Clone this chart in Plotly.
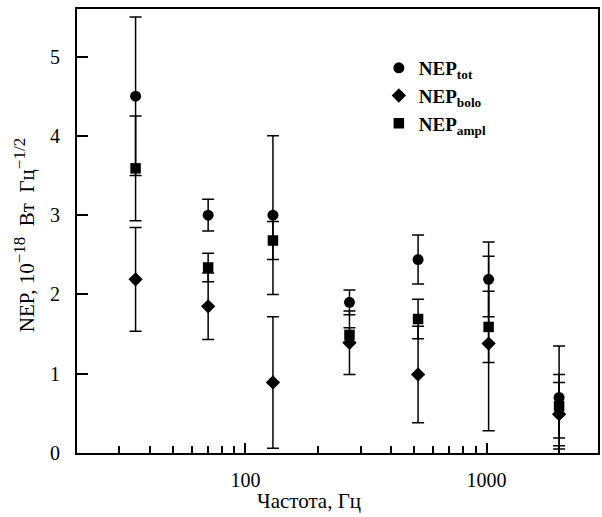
import numpy as np
import plotly.graph_objects as go

freq = [35, 70, 130, 270, 520, 1020, 2000]
nep_tot = [4.5, 3.0, 3.0, 1.9, 2.44, 2.19, 0.7]
nep_tot_err = [1.0, 0.2, 1.0, 0.155, 0.31, 0.47, 0.65]
nep_bolo = [2.19, 1.85, 0.89, 1.39, 0.99, 1.38, 0.49]
nep_bolo_err = [0.655, 0.42, 0.83, 0.4, 0.61, 1.1, 0.4]
nep_ampl = [3.59, 2.34, 2.68, 1.49, 1.69, 1.59, 0.59]
nep_ampl_err = [0.66, 0.18, 0.24, 0.09, 0.25, 0.45, 0.4]

x_major = [100, 1000]
x_major_text = ["100", "1000"]
x_minor = [30, 40, 50, 60, 70, 80, 90, 200, 300, 400, 500, 600, 700, 800, 900, 2000]
y_ticks = [0, 1, 2, 3, 4, 5]

FONT = "Liberation Serif, Times New Roman, serif"

fig = go.Figure()

series = [
    ("<b>NEP<sub>tot</sub></b>", nep_tot, nep_tot_err, "circle", 11),
    ("<b>NEP<sub>bolo</sub></b>", nep_bolo, nep_bolo_err, "diamond", 11),
    ("<b>NEP<sub>ampl</sub></b>", nep_ampl, nep_ampl_err, "square", 10.5),
]
for name, y, err, sym, size in series:
    fig.add_trace(go.Scatter(
        x=freq, y=y, mode="markers", name=name,
        marker=dict(symbol=sym, size=size, color="black"),
        error_y=dict(type="data", array=err, visible=True, color="black",
                     thickness=1.5, width=6),
    ))

fig.update_layout(
    width=602, height=517,
    margin=dict(l=77, r=2, t=9, b=64),
    paper_bgcolor="white", plot_bgcolor="white",
    font=dict(family=FONT, size=20, color="black"),
    showlegend=True,
    legend=dict(x=(380 - 77) / 523, y=0.91, xanchor="left", yanchor="top",
                bgcolor="rgba(0,0,0,0)", font=dict(size=19, family=FONT),
                itemwidth=30),
    xaxis=dict(
        type="log", range=[np.log10(20), np.log10(2900)],
        tickmode="array", tickvals=x_major, ticktext=x_major_text,
        ticks="inside", ticklen=10, tickwidth=1.5, tickcolor="black",
        minor=dict(tickmode="array", tickvals=x_minor, ticks="inside",
                   ticklen=7, tickwidth=1.5, tickcolor="black", showgrid=False),
        showline=True, linecolor="black", linewidth=2, mirror=True,
        showgrid=False, zeroline=False,
        tickfont=dict(size=20, family=FONT),
        ticklabelstandoff=8,
    ),
    yaxis=dict(
        range=[0, 5.6], tickmode="array", tickvals=y_ticks,
        ticks="inside", ticklen=11, tickwidth=1.5, tickcolor="black",
        showline=True, linecolor="black", linewidth=2, mirror=True,
        showgrid=False, zeroline=False,
        tickfont=dict(size=20, family=FONT),
        ticklabelstandoff=11,
    ),
    annotations=[
        dict(text="Частота, Гц", xref="paper", yref="paper",
             x=(310 - 77) / 523, y=-(501 - 453) / 444, xanchor="center", yanchor="middle",
             showarrow=False, font=dict(size=21, family=FONT)),
        dict(text="NEP, 10<sup><span style='font-size:17px'>−18</span></sup>\u00a0\u00a0Вт\u00a0\u00a0Гц<sup><span style='font-size:17px'>−1/2</span></sup>",
             xref="paper", yref="paper",
             x=-(77 - 24) / 523, y=(453 - 235) / 444, xanchor="center", yanchor="middle",
             textangle=-90, showarrow=False, font=dict(size=21, family=FONT)),
    ],
)

fig.write_html("out.html")
